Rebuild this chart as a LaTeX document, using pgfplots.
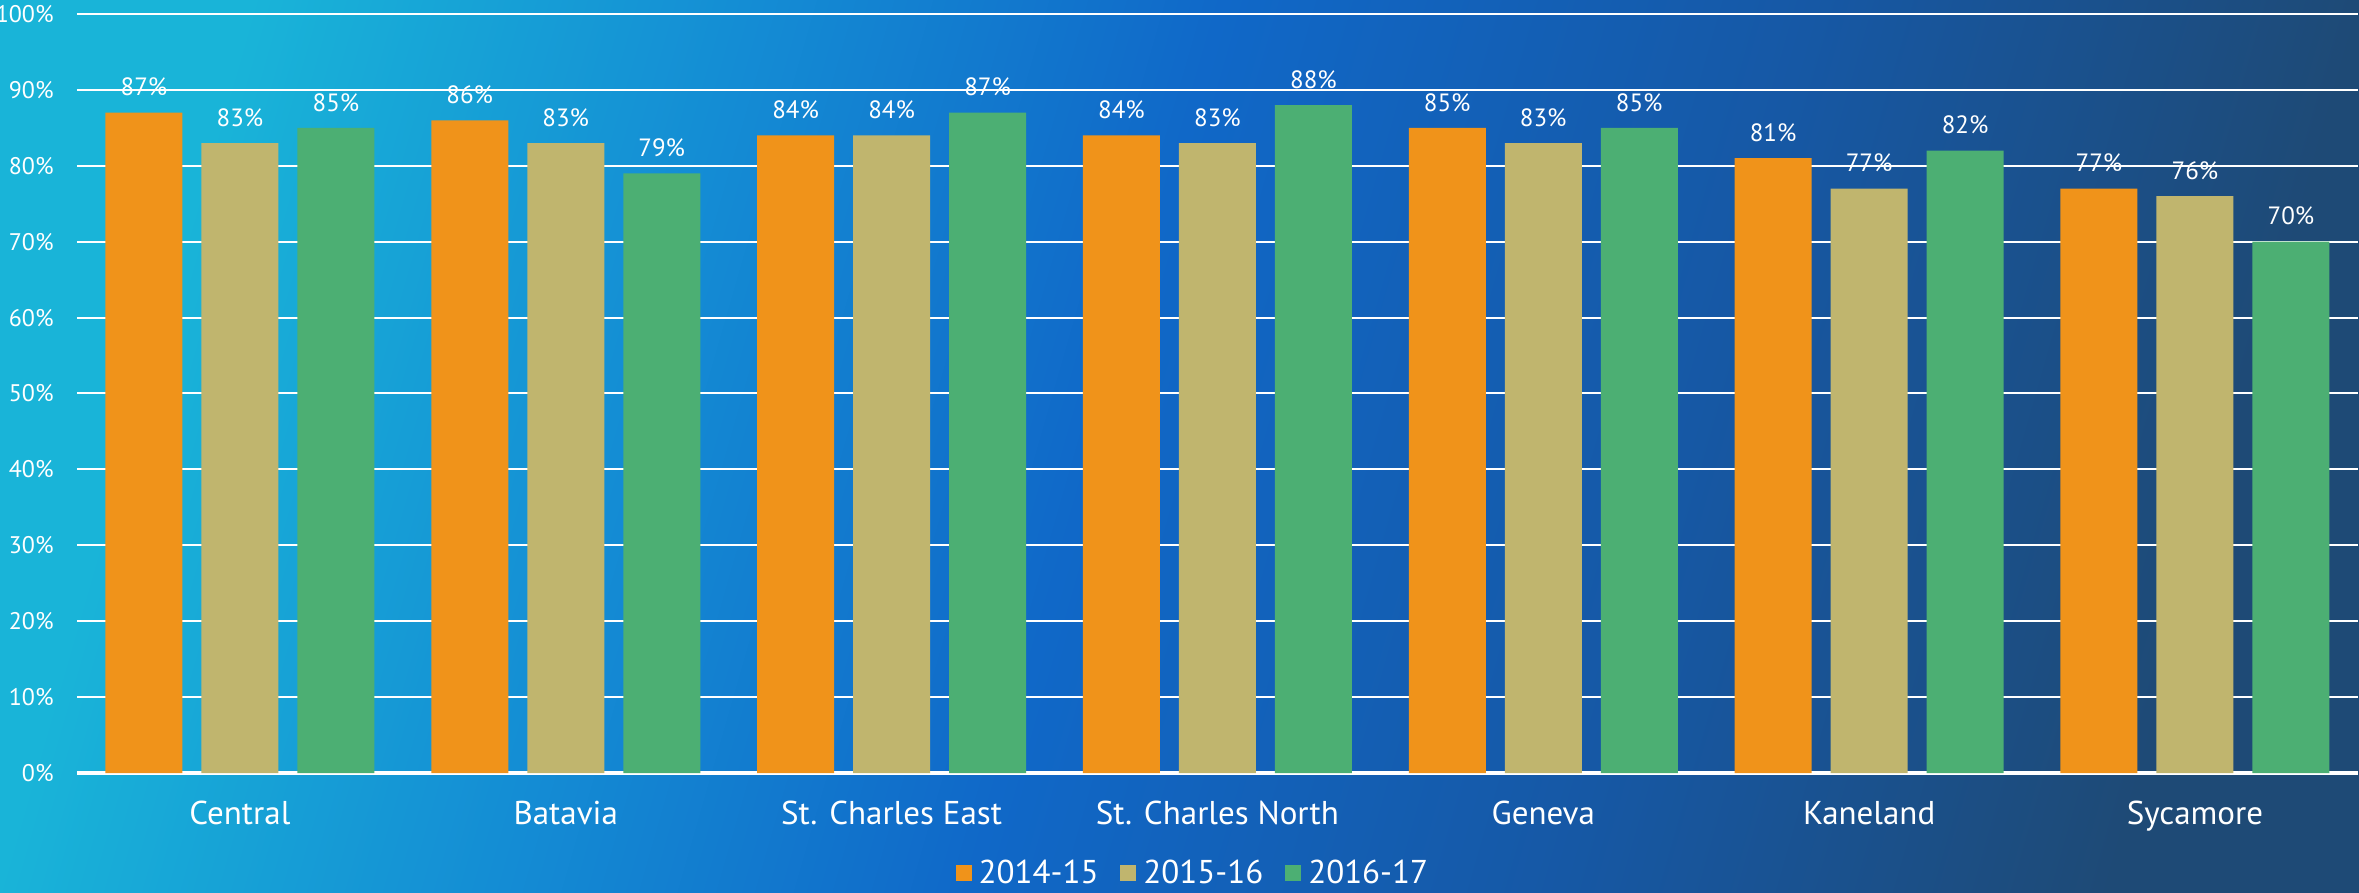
\documentclass[border=0pt]{standalone}
\usepackage{pgfplots}
\pgfplotsset{compat=1.18}
\usepackage{fontspec}
\setmainfont{PT Sans}
\definecolor{bgA}{RGB}{25,180,216}
\definecolor{bgB}{RGB}{20,140,212}
\definecolor{bgC}{RGB}{16,104,200}
\definecolor{bgD}{RGB}{22,88,165}
\definecolor{bgE}{RGB}{30,74,118}
\definecolor{cOrange}{RGB}{240,147,26}
\definecolor{cTan}{RGB}{192,181,110}
\definecolor{cGreen}{RGB}{76,175,115}
\pgfdeclarehorizontalshading{bgshade}{100bp}{color(0bp)=(bgA); color(25bp)=(bgA); color(37bp)=(bgB); color(48bp)=(bgC); color(62bp)=(bgD); color(75bp)=(bgE); color(100bp)=(bgE)}
\begin{document}
\begin{tikzpicture}
\shade[shading=bgshade, shading angle=-16] (-38.5pt,-60pt) rectangle (1141pt,386.5pt);
\begin{axis}[
  scale only axis,
  width=1140.5pt, height=379.5pt,
  xmin=-0.5, xmax=6.5, ymin=0, ymax=100,
  ybar=9.5pt, bar width=38.5pt,
  axis line style={draw=none},
  major tick length=0pt,
  xtick={0,1,2,3,4,5,6},
  xticklabels={Central,Batavia,St. Charles East,St. Charles North,Geneva,Kaneland,Sycamore},
  xticklabel style={font=\fontsize{16.5}{18}\selectfont, text=white, anchor=north, inner sep=0pt, yshift=-14pt},
  ytick={0,10,...,100},
  yticklabel={\pgfmathprintnumber{\tick}\%},
  /pgf/number format/assume math mode=true,
  yticklabel style={font=\fontsize{12}{14}\selectfont, text=white, anchor=east, inner sep=0pt, xshift=-11.5pt},
  ymajorgrids,
  grid style={white, line width=1pt},
  extra y ticks={0},
  extra y tick labels={},
  extra y tick style={grid style={white, line width=1.6pt}},
  nodes near coords={\pgfmathprintnumber{\pgfplotspointmeta}\%},
  every node near coord/.append style={font=\fontsize{12.5}{14}\selectfont, text=white, anchor=south, inner sep=0pt, yshift=8pt},
  legend columns=3,
  legend style={at={(axis description cs:0.4888,-0.1318)}, anchor=center, draw=none, fill=none, text=white, font=\fontsize{16.5}{18}\selectfont, nodes={inner sep=0pt},
    /tikz/every odd column/.append style={column sep=3.5pt},
    /tikz/every even column/.append style={column sep=11pt}},
  legend image code/.code={\fill[#1] (0pt,-4pt) rectangle (8pt,4pt);},
]
\addplot[fill=cOrange, draw=none] coordinates {(0,87) (1,86) (2,84) (3,84) (4,85) (5,81) (6,77)};
\addplot[fill=cTan, draw=none] coordinates {(0,83) (1,83) (2,84) (3,83) (4,83) (5,77) (6,76)};
\addplot[fill=cGreen, draw=none] coordinates {(0,85) (1,79) (2,87) (3,88) (4,85) (5,82) (6,70)};
\legend{2014-15,2015-16,2016-17}
\end{axis}
\pgfresetboundingbox
\useasboundingbox (-38.5pt,-60pt) rectangle (1141pt,386.5pt);
\end{tikzpicture}
\end{document}
